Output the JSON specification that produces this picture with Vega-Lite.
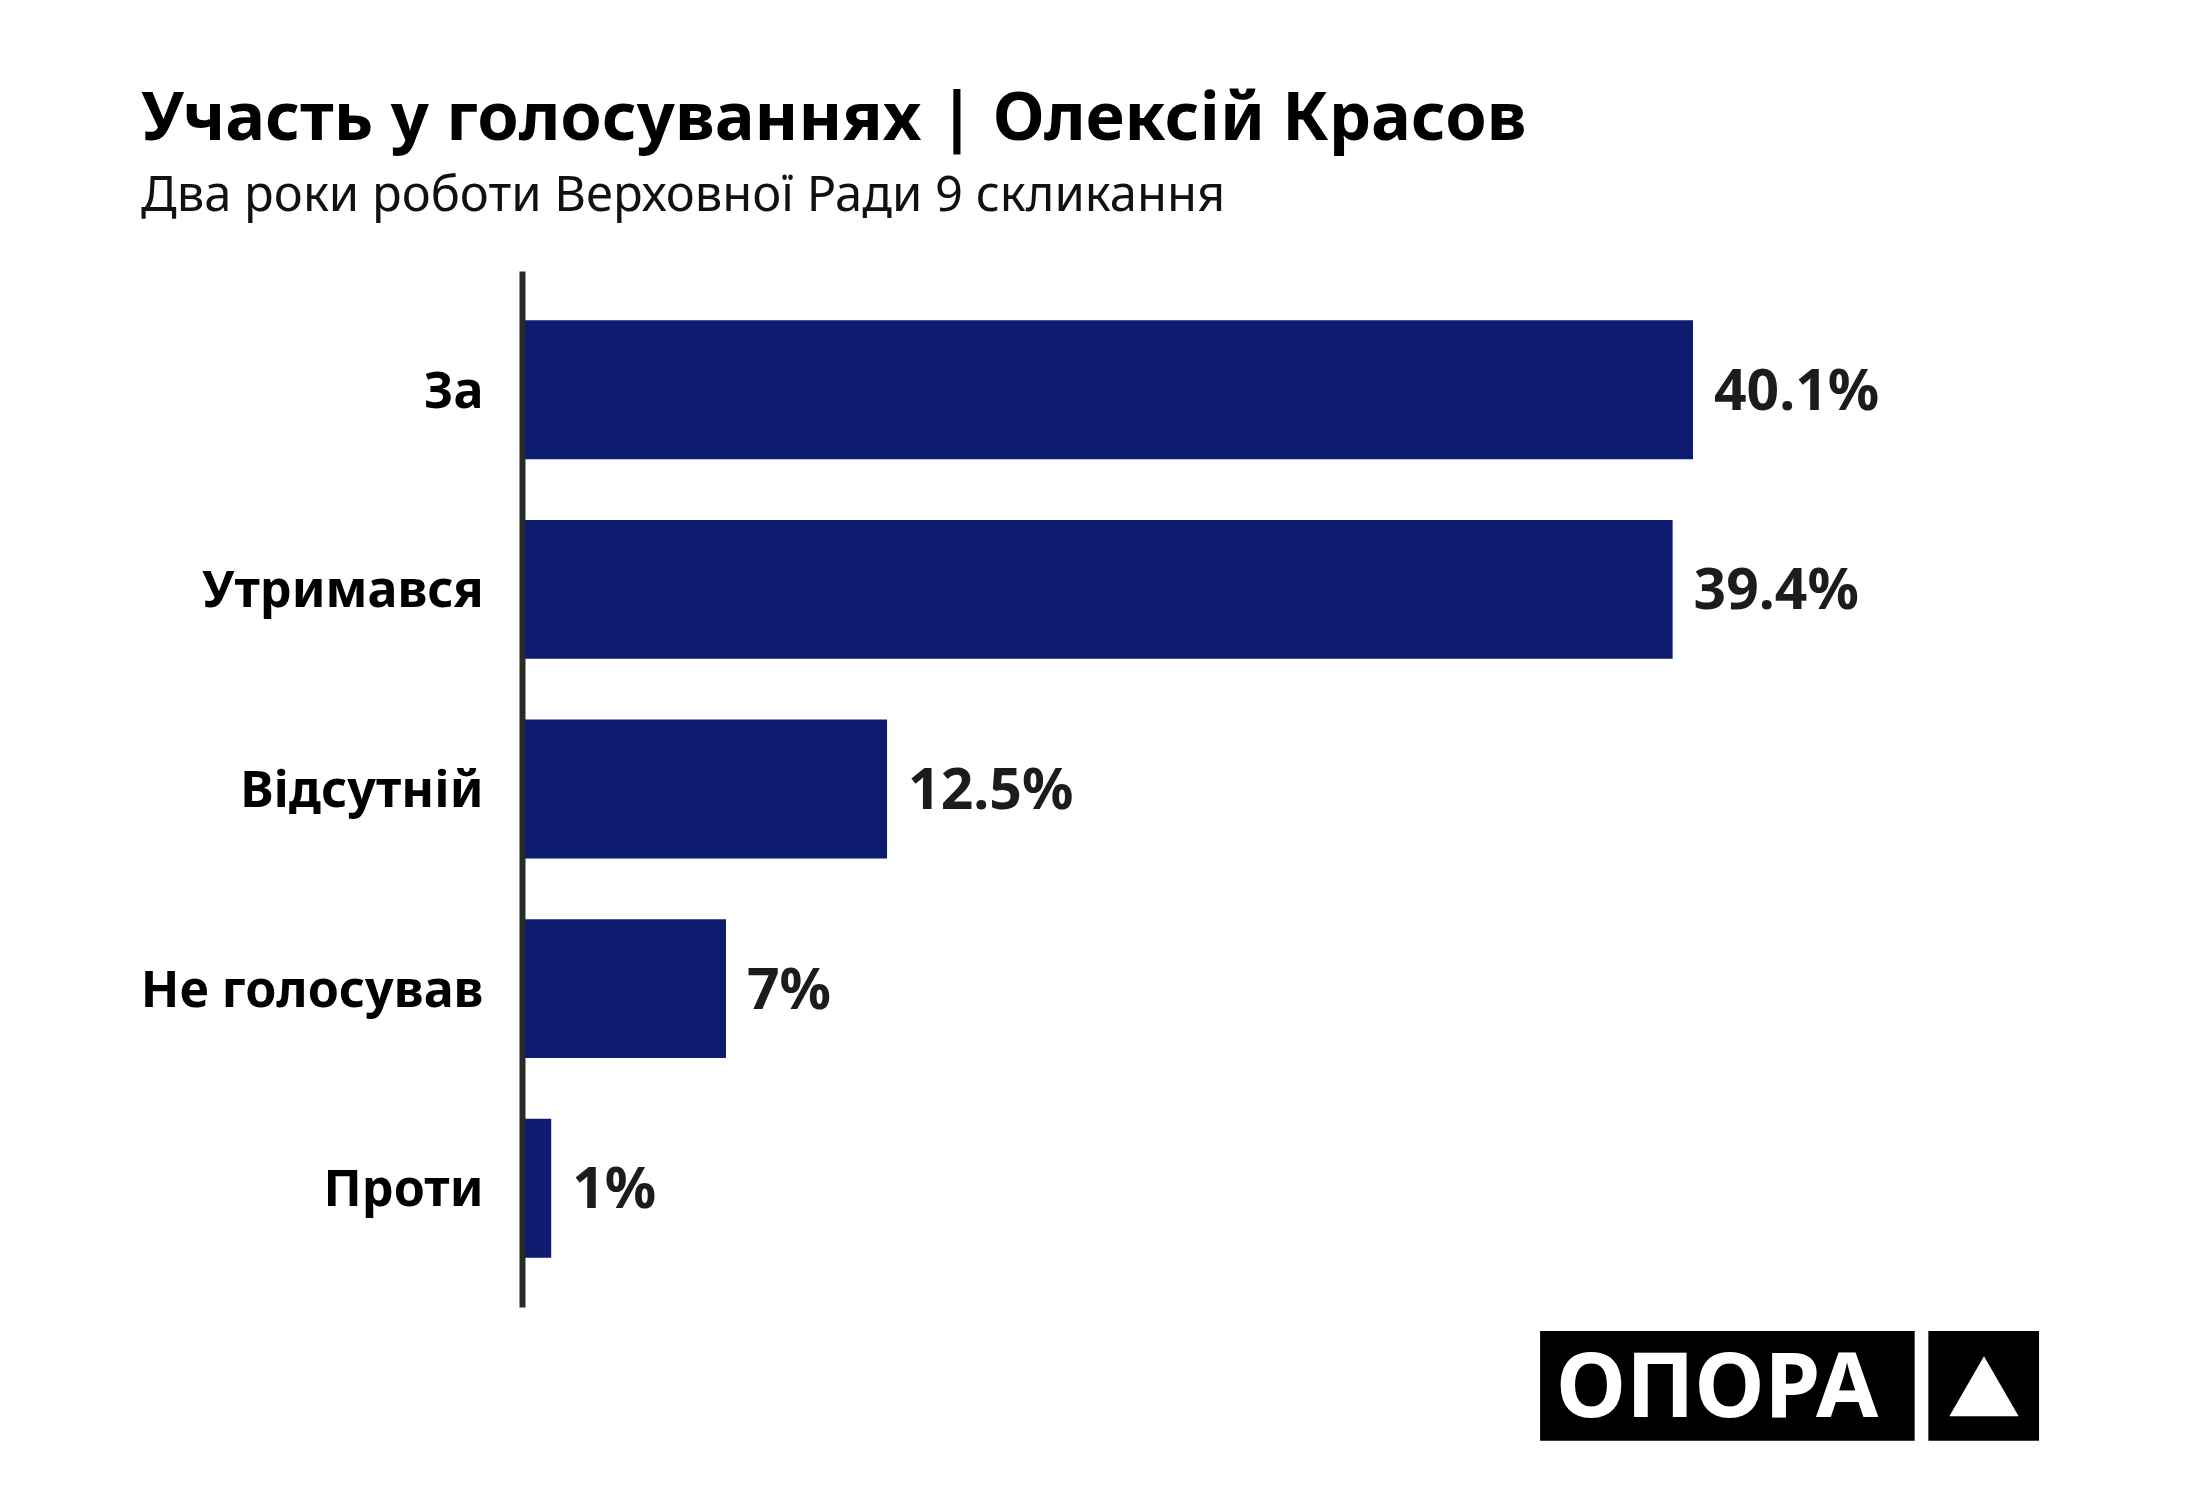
{
  "$schema": "https://vega.github.io/schema/vega-lite/v6.json",
  "autosize": {"type": "none"},
  "padding": {"left": 525, "top": 271, "right": 73, "bottom": 193},
  "width": 1602,
  "height": 1036,
  "background": "white",
  "config": {"view": {"stroke": null}},
  "title": {
    "text": "Участь у голосуваннях | Олексій Красов",
    "subtitle": "Два роки роботи Верховної Ради 9 скликання",
    "anchor": "start",
    "frame": "group",
    "dx": -384,
    "offset": 50,
    "font": "Noto Sans",
    "fontSize": 66.8,
    "fontWeight": "bold",
    "color": "#000000",
    "subtitleFont": "Noto Sans",
    "subtitleFontSize": 48.9,
    "subtitleFontWeight": "normal",
    "subtitleColor": "#111111",
    "subtitlePadding": 18
  },
  "datasets": {
    "votes": [
      {"option": "За", "value": 40.1, "label": "40.1%"},
      {"option": "Утримався", "value": 39.4, "label": "39.4%"},
      {"option": "Відсутній", "value": 12.43, "label": "12.5%"},
      {"option": "Не голосував", "value": 6.9, "label": "7%"},
      {"option": "Проти", "value": 0.9, "label": "1%"}
    ],
    "logoBoxes": [
      {"part": "word", "x": 34.85, "x2": 47.71, "y": -0.0232, "y2": -0.1291},
      {"part": "sign", "x": 48.18, "x2": 51.98, "y": -0.0232, "y2": -0.1291}
    ],
    "logoText": [
      {"text": "ОПОРА", "x": 35.4, "y": -0.1059}
    ],
    "logoSign": [
      {"x": 50.09, "y": -0.0766}
    ]
  },
  "layer": [
    {
      "layer": [
        {
          "data": {"name": "votes"},
          "mark": {"type": "bar", "color": "#0d1c6e"},
          "encoding": {
            "y": {
              "field": "option",
              "type": "nominal",
              "sort": null,
              "scale": {"paddingInner": 0.304, "paddingOuter": 0.247},
              "axis": {
                "title": null,
                "ticks": false,
                "tickSize": 0,
                "labelPadding": 39,
                "labelOffset": 3,
                "offset": 3,
                "domainColor": "#2b2b25",
                "domainWidth": 6,
                "labelFont": "Noto Sans",
                "labelFontSize": 50.2,
                "labelFontWeight": "bold",
                "labelColor": "#000000",
                "labelLimit": 0,
                "grid": false
              }
            },
            "x": {
              "field": "value",
              "type": "quantitative",
              "scale": {"domain": [0, 55], "nice": false, "zero": true},
              "axis": null
            }
          }
        },
        {
          "data": {"name": "votes"},
          "mark": {
            "type": "text",
            "align": "left",
            "baseline": "middle",
            "dx": 21,
            "dy": 3,
            "font": "Noto Sans",
            "fontSize": 57,
            "fontWeight": "bold",
            "color": "#1c1c1c"
          },
          "encoding": {
            "y": {"field": "option", "type": "nominal", "sort": null},
            "x": {"field": "value", "type": "quantitative"},
            "text": {"field": "label"}
          }
        }
      ]
    },
    {
      "layer": [
        {
          "data": {"name": "logoBoxes"},
          "mark": {"type": "rect", "color": "#000000", "clip": false},
          "encoding": {
            "x": {"field": "x", "type": "quantitative"},
            "x2": {"field": "x2"},
            "y": {"field": "y", "type": "quantitative", "scale": {"domain": [0, 1], "nice": false, "zero": false}, "axis": null},
            "y2": {"field": "y2"}
          }
        },
        {
          "data": {"name": "logoText"},
          "mark": {
            "type": "text",
            "align": "left",
            "baseline": "alphabetic",
            "font": "Noto Sans",
            "fontSize": 90,
            "fontWeight": "bold",
            "color": "#ffffff"
          },
          "encoding": {
            "x": {"field": "x", "type": "quantitative"},
            "y": {"field": "y", "type": "quantitative", "scale": {"domain": [0, 1], "nice": false, "zero": false}, "axis": null},
            "text": {"field": "text"}
          }
        },
        {
          "data": {"name": "logoSign"},
          "mark": {"type": "point", "shape": "triangle-up", "filled": true, "color": "#ffffff", "opacity": 1, "size": 4800},
          "encoding": {
            "x": {"field": "x", "type": "quantitative"},
            "y": {"field": "y", "type": "quantitative", "scale": {"domain": [0, 1], "nice": false, "zero": false}, "axis": null}
          }
        }
      ]
    }
  ],
  "resolve": {"scale": {"y": "independent"}}
}
